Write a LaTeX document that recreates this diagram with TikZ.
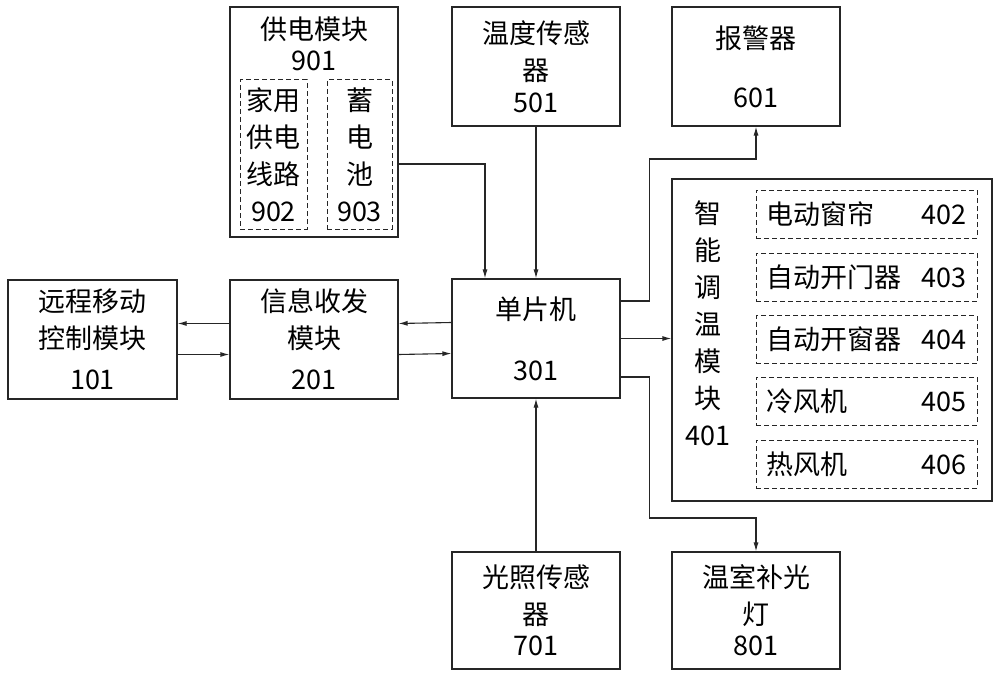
\documentclass[tikz,border=0pt]{standalone}
\usepackage{fontspec}
\newfontfamily\cjk{Noto Sans CJK SC}
\usetikzlibrary{arrows.meta}
\tikzset{
  blk/.style={draw=black!85,line width=1.1pt,align=center,inner sep=0pt,
    font=\cjk\fontsize{27}{37}\selectfont},
  dashblk/.style={blk,line width=1pt,dash pattern=on 5pt off 3pt},
  txt/.style={align=center,inner sep=0pt,font=\cjk\fontsize{27}{37}\selectfont},
  arr/.style={draw=black!85,line width=1.1pt,-{Latex[length=9pt,width=5pt]}}
}
\begin{document}
\begin{tikzpicture}[x=1pt,y=-1pt]
\path[use as bounding box,fill=white] (0,0) rectangle (1000,679);

% main modules
\node[blk,minimum width=169pt,minimum height=119pt] (m101) at ( 92.5,339.5) {远程移动\\控制模块\\[4pt]101};
\node[blk,minimum width=168pt,minimum height=119pt] (m201) at (314.0,339.5) {信息收发\\模块\\[4pt]201};
\node[blk,minimum width=168pt,minimum height=119pt] (m301) at (536.0,338.5) {单片机\\[24pt]301};
\node[blk,minimum width=168pt,minimum height=119pt] (m501) at (536.0, 66.5) {温度传感\\器\\[-5pt]501};
\node[blk,minimum width=168pt,minimum height=119pt] (m601) at (756.0, 66.5) {报警器\\[22pt]601};
\node[blk,minimum width=168pt,minimum height=117pt] (m701) at (536.0,610.5) {光照传感\\器\\[-6pt]701};
\node[blk,minimum width=168pt,minimum height=117pt] (m801) at (756.0,610.5) {温室补光\\灯\\[-6pt]801};

% power supply
\node[blk,minimum width=168pt,minimum height=230pt] (m901) at (314.0,122.0) {};
\node[txt] (t901) at (314.0,44.0) {供电模块\\[-6pt]901};
\node[dashblk,minimum width=67pt,minimum height=149pt] (m902) at (273.5,154.5) {家用\\供电\\线路\\902};
\node[dashblk,minimum width=65pt,minimum height=149pt] (m903) at (359.5,154.5) {蓄\\电\\池\\903};

% smart temperature control
\node[blk,minimum width=320pt,minimum height=322pt] (m401) at (832.0,340.0) {};
\node[txt] (t401) at (708.0,323.0) {智\\能\\调\\温\\模\\块\\401};
\foreach \y/\name/\num in {214/电动窗帘/402,277/自动开门器/403,339.5/自动开窗器/404,401/冷风机/405,464/热风机/406}
  \node[dashblk,minimum width=221pt,minimum height=48pt] (m\num) at (866.5,\y) {\makebox[200pt]{\name\hfill\num}};

% connections
\draw[arr] ([yshift=16pt]m201.west) -- ([yshift=16pt]m101.east);
\draw[arr] ([yshift=-15pt]m101.east) -- ([yshift=-15pt]m201.west);
\draw[arr] ([yshift=16pt]m301.west) -- ([yshift=16pt]m201.east);
\draw[arr] ([yshift=-15pt]m201.east) -- ([yshift=-15pt]m301.west);
\draw[arr] (m501.south) -- (m301.north);
\draw[arr] (m701.north) -- (m301.south);
\draw[arr] ([yshift=-42pt]m901.east) -| ([xshift=-51pt]m301.north);
\draw[arr] ([yshift=37.5pt]m301.east) -- ++(29,0) -- ++(0,-142) -| (m601.south);
\draw[arr] (m301.east) -- (m301.east -| m401.west);
\draw[arr] ([yshift=-38.5pt]m301.east) -- ++(29,0) -- ++(0,141) -| (m801.north);
\end{tikzpicture}
\end{document}
